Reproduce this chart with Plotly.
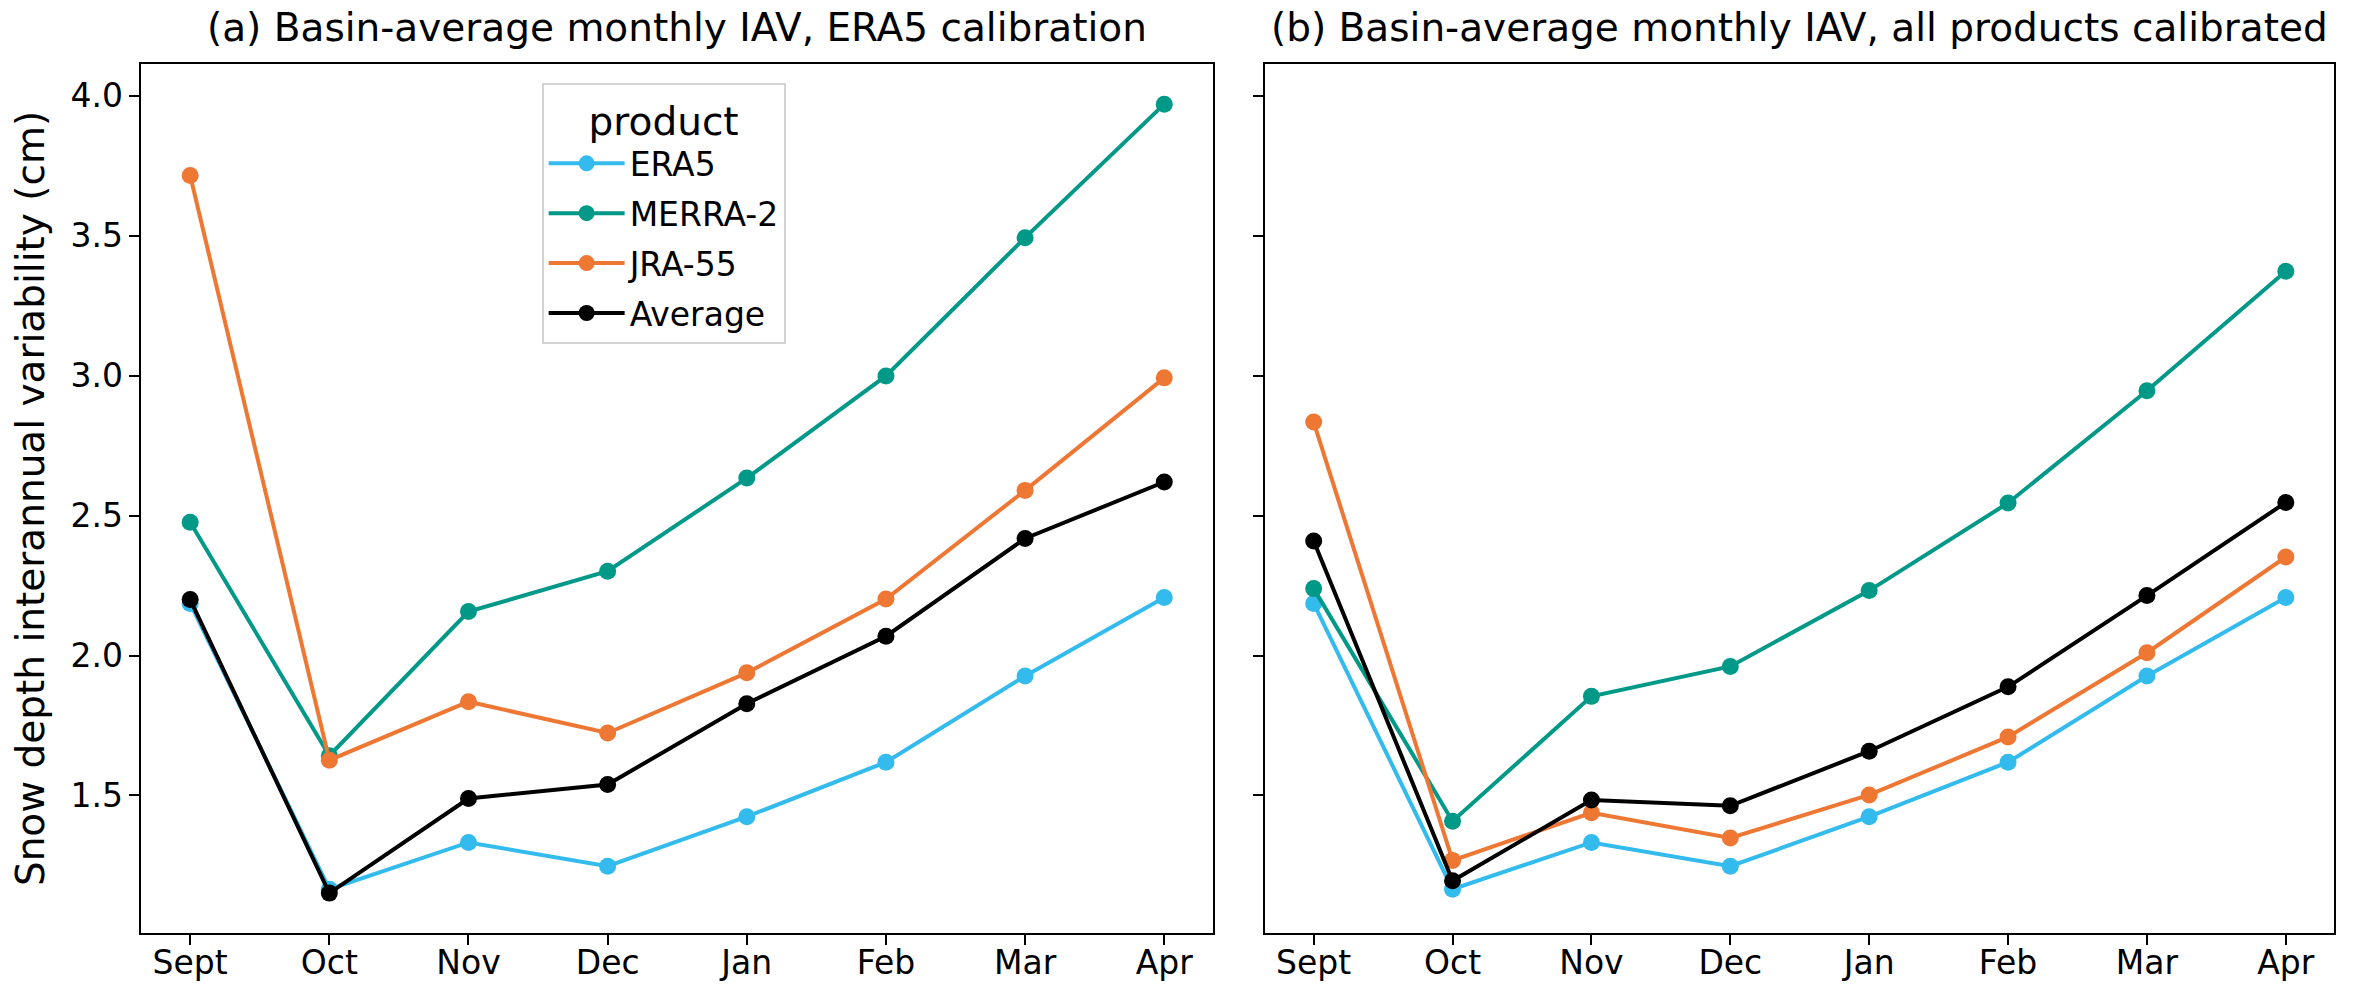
import plotly.graph_objects as go

# months on the x axis
months = ["Sept", "Oct", "Nov", "Dec", "Jan", "Feb", "Mar", "Apr"]

# (a) ERA5 calibration
era5_a = [2.186, 1.165, 1.332, 1.247, 1.424, 1.619, 1.927, 2.207]
merra2_a = [2.476, 1.642, 2.157, 2.301, 2.634, 2.999, 3.493, 3.970]
jra55_a = [3.715, 1.626, 1.835, 1.723, 1.938, 2.202, 2.590, 2.992]
average_a = [2.200, 1.151, 1.489, 1.539, 1.828, 2.069, 2.418, 2.620]

# (b) all products calibrated
era5_b = [2.186, 1.165, 1.332, 1.247, 1.424, 1.619, 1.927, 2.207]
merra2_b = [2.239, 1.408, 1.854, 1.961, 2.232, 2.545, 2.946, 3.373]
jra55_b = [2.834, 1.268, 1.438, 1.348, 1.502, 1.709, 2.010, 2.352]
average_b = [2.409, 1.195, 1.484, 1.463, 1.658, 1.888, 2.214, 2.547]

products = ["ERA5", "MERRA-2", "JRA-55", "Average"]
colors = ["#33BBEE", "#009988", "#EE7733", "#000000"]

panel_a = [era5_a, merra2_a, jra55_a, average_a]
panel_b = [era5_b, merra2_b, jra55_b, average_b]

fig = go.Figure()

for name, col, ya, yb in zip(products, colors, panel_a, panel_b):
    fig.add_trace(go.Scatter(x=months, y=ya, name=name, mode="lines+markers",
                             line=dict(color=col, width=4),
                             marker=dict(color=col, size=17),
                             xaxis="x", yaxis="y", legendgroup=name))
    fig.add_trace(go.Scatter(x=months, y=yb, name=name, mode="lines+markers",
                             line=dict(color=col, width=4),
                             marker=dict(color=col, size=17),
                             xaxis="x2", yaxis="y2", legendgroup=name,
                             showlegend=False))

FONT = "DejaVu Sans"
common_x = dict(type="category", range=[-0.35, 7.35], showgrid=False,
                showline=True, linecolor="black", linewidth=2, mirror=True,
                ticks="outside", ticklen=10, tickwidth=2, tickcolor="black",
                ticklabelstandoff=-10,
                tickfont=dict(size=33, color="black"), zeroline=False)
common_y = dict(range=[1.009, 4.113], showgrid=False,
                showline=True, linecolor="black", linewidth=2, mirror=True,
                ticks="outside", ticklen=10, tickwidth=2, tickcolor="black",
                tickvals=[1.5, 2.0, 2.5, 3.0, 3.5, 4.0],
                ticktext=["1.5", "2.0", "2.5", "3.0", "3.5", "4.0"],
                tickfont=dict(size=33, color="black"), zeroline=False,
                domain=[0.069, 0.936])

fig.update_layout(
    width=2358, height=1002,
    margin=dict(l=0, r=0, t=0, b=0),
    paper_bgcolor="white", plot_bgcolor="white",
    font=dict(family=FONT, color="black"),
    xaxis=dict(common_x, domain=[0.060, 0.5144], anchor="y"),
    xaxis2=dict(common_x, domain=[0.5365, 0.990], anchor="y2"),
    yaxis=dict(common_y, anchor="x",
               title=dict(text="Snow depth interannual variability (cm)",
                          font=dict(size=39), standoff=14)),
    yaxis2=dict(common_y, anchor="x2", matches="y", showticklabels=False),
    legend=dict(x=0.2297, y=0.9175, xanchor="left", yanchor="top",
                bgcolor="rgba(255,255,255,0.8)", bordercolor="#d4d4d4",
                borderwidth=2, font=dict(size=33), itemwidth=76,
                tracegroupgap=4,
                title=dict(text="product", font=dict(size=39), side="top center")),
    showlegend=True,
)

fig.add_annotation(text="(a) Basin-average monthly IAV, ERA5 calibration",
                   xref="paper", yref="paper", x=(0.060 + 0.5144) / 2, y=0.936,
                   xanchor="center", yanchor="bottom", yshift=12,
                   showarrow=False, font=dict(size=39))
fig.add_annotation(text="(b) Basin-average monthly IAV, all products calibrated",
                   xref="paper", yref="paper", x=(0.5365 + 0.990) / 2, y=0.936,
                   xanchor="center", yanchor="bottom", yshift=12,
                   showarrow=False, font=dict(size=39))

fig.write_html("out.html", config={"displayModeBar": False},
               post_script="document.body.style.margin='0';")
